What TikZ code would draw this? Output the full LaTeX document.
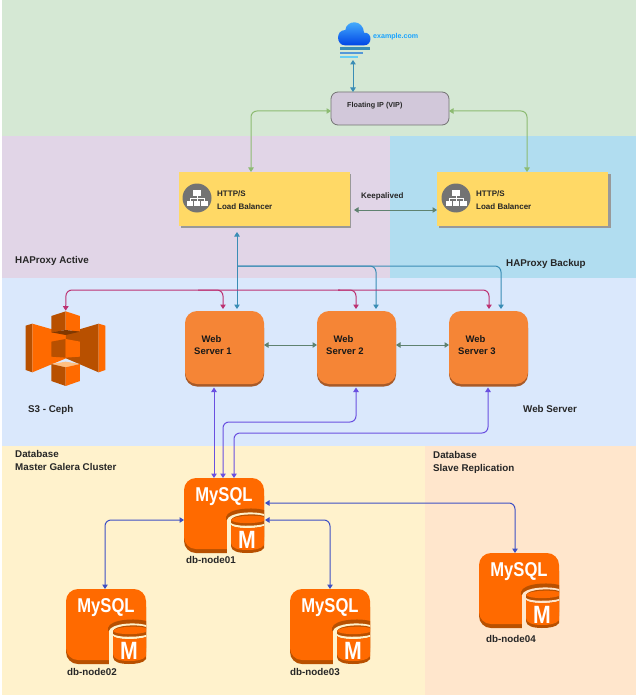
\documentclass[tikz,border=0pt]{standalone}
\usepackage{fontspec}
\usepackage{graphicx}
\setmainfont{Liberation Sans}
\usetikzlibrary{arrows.meta,calc}
\definecolor{bgreen}{HTML}{D5E8D4}
\definecolor{bpurple}{HTML}{E1D5E7}
\definecolor{bblue}{HTML}{B1DDF0}
\definecolor{bsky}{HTML}{DAE8FC}
\definecolor{byellow}{HTML}{FFF2CC}
\definecolor{bpeach}{HTML}{FFE6CC}
\definecolor{awsorange}{HTML}{FF6A00}
\definecolor{awsdark}{HTML}{B85000}
\definecolor{weborange}{HTML}{F58536}
\definecolor{webdark}{HTML}{A85A28}
\definecolor{lbyellow}{HTML}{FFD966}
\definecolor{vipfill}{HTML}{D2C8DA}
\definecolor{cteal}{HTML}{3A8DB5}
\definecolor{cgreen}{HTML}{8DBB72}
\definecolor{cdkgreen}{HTML}{5F8270}
\definecolor{cmag}{HTML}{BC3272}
\definecolor{cpurple}{HTML}{6A50E0}
\definecolor{cblue}{HTML}{3E50C4}
\tikzset{
  x=1pt,y=-1pt,
  lbl/.style={anchor=west,inner sep=0pt,font=\fontsize{9.8}{12.3}\selectfont\bfseries,text=black!85,align=left},
  lbtext/.style={anchor=west,inner sep=0pt,font=\fontsize{8}{12.3}\selectfont\bfseries,text=black!85,align=left},
  webtext/.style={anchor=west,inner sep=0pt,align=center,font=\fontsize{9.5}{12.3}\selectfont\bfseries,text=black!90},
  websrv/.style={anchor=north west,minimum width=79pt,minimum height=73pt,inner sep=0pt,outer sep=0pt,rounded corners=12pt,fill=weborange},
  webshade/.style={rounded corners=12pt,fill=webdark},
  lb/.style={anchor=north west,minimum width=171pt,minimum height=54pt,inner sep=0pt,outer sep=0pt,fill=lbyellow},
  conn/.style={line width=1pt,rounded corners=6pt,{Triangle[width=5.5pt,length=4.5pt]}-{Triangle[width=5.5pt,length=4.5pt]}},
  connone/.style={line width=1pt,rounded corners=6pt,-{Triangle[width=5.5pt,length=4.5pt]}},
  tealc/.style={conn,draw=cteal},
  greenc/.style={conn,draw=cgreen},
  dkgreenc/.style={conn,draw=cdkgreen},
  magc/.style={connone,draw=cmag},
  purc/.style={conn,draw=cpurple},
  bluec/.style={conn,draw=cblue},
  dbbox/.style={anchor=north west,minimum width=80pt,minimum height=77pt,inner sep=0pt,outer sep=0pt},
  pics/mysql/.style={code={
    \fill[awsdark,rounded corners=12pt] (0,6) rectangle (80,75);
    \fill[awsorange,rounded corners=12pt] (0,0) rectangle (80,71);
    \node[text=white,inner sep=0pt,anchor=base] at (40,23.5) {\scalebox{0.83}[1]{\fontsize{20}{20}\selectfont\bfseries MySQL}};
    \fill[awsdark] (42,39) .. controls (44,30) and (70,29) .. (80,32) -- (80,40) -- (42,42) -- cycle;
    \fill[#1] (43,42) .. controls (45,34) and (70,33) .. (80,36) -- (80,78) -- (43,78) -- cycle;
    \fill[awsdark] (47,42) .. controls (49,36) and (72,35) .. (80,38) -- (80,70) .. controls (78,74) and (70,75) .. (63,75) .. controls (54,75) and (47,73) .. (47,68) -- cycle;
    \fill[awsorange] (47,42) .. controls (49,37.5) and (72,36.5) .. (80,39) -- (80,43) .. controls (72,46) and (50,46) .. (47,42) -- cycle;
    \fill[#1] (47,45) .. controls (50,48.5) and (72,48.5) .. (80,46) -- (80,48) .. controls (72,51) and (50,51) .. (47,47) -- cycle;
    \fill[awsorange] (47,47) .. controls (50,51) and (72,51) .. (80,48) -- (80,67) .. controls (78,71) and (70,72) .. (63,72) .. controls (54,72) and (47,70) .. (47,65) -- cycle;
    \node[text=white,inner sep=0pt,anchor=base] at (63,70) {\scalebox{0.85}[1]{\fontsize{25}{25}\selectfont\bfseries M}};
  }},
  pics/lbicon/.style={code={
    \fill[black!55] (0,0) circle[radius=14.5pt];
    \fill[white] (-4,-8) rectangle (4,-2.5);
    \fill[white] (-10.5,2.5) rectangle (-3.8,7.5);
    \fill[white] (-3.2,2.5) rectangle (3.2,7.5);
    \fill[white] (3.8,2.5) rectangle (10.5,7.5);
    \draw[white,line width=0.7pt] (0,-3) -- (0,3) (-7,3) -- (-7,0) -- (7,0) -- (7,3);
  }},
}
\begin{document}
\begin{tikzpicture}
\useasboundingbox (0,0) rectangle (637,695);
\fill[white] (0,0) rectangle (637,695);
% bands
\fill[bgreen] (1.5,0.5) rectangle (636,136);
\fill[bpurple] (1.5,136) rectangle (390,278);
\fill[bblue] (390,136) rectangle (636,278);
\fill[bsky] (1.5,278) rectangle (636,446);
\fill[byellow] (1.5,446) rectangle (425,695);
\fill[bpeach] (425,446) rectangle (636,695);
% cloud
\begin{scope}[shift={(300,10)},x=0.3333pt,y=-0.3333pt]
  \shade[top color=blue!40!cyan!70,bottom color=blue!70!cyan!90!black]
    (135,106) .. controls (108,106) and (106,60) .. (136,60) .. controls (140,28) and (190,28) .. (192,68) .. controls (218,66) and (218,106) .. (192,106) -- cycle;
  \fill[cteal] (120,112) rectangle (210,119);
  \fill[cyan!60!blue!70] (120,125) rectangle (188,131);
  \fill[cyan!60] (120,138) rectangle (175,144);
\end{scope}
\coordinate (cloudb) at (353,60);
\node[anchor=west,inner sep=0pt,font=\fontsize{7.1}{9}\selectfont\bfseries,text=blue!40!cyan!90] (dom) at (373,37) {example.com};
% VIP
\node[anchor=north west,minimum width=118pt,minimum height=33pt,inner sep=0pt,outer sep=0pt,rounded corners=7pt,fill=vipfill,draw=black!55,line width=0.8pt] (vip) at (331,92) {};
\node[anchor=west,inner sep=0pt,font=\fontsize{7.2}{9}\selectfont\bfseries,text=black!85] (viptxt) at (347,106) {Floating IP (VIP)};
% load balancers
\fill[black!40] (180.5,173.5) rectangle (351,228);
\node[lb] (lb1) at (179,172) {};
\pic at (197,198) {lbicon};
\node[lbtext] (lb1t) at (217,200) {HTTP/S\\Load Balancer};
\fill[black!40] (438.5,173.5) rectangle (611,228);
\node[lb] (lb2) at (437,172) {};
\pic at (456,198) {lbicon};
\node[lbtext] (lb2t) at (476,200) {HTTP/S\\Load Balancer};
\node[anchor=west,inner sep=0pt,font=\fontsize{8}{10}\selectfont\bfseries,text=black!85] (keep) at (361,196) {Keepalived};
% web servers
\foreach \xx/\nm in {185/1,317/2,449/3}{
  \fill[webshade] (\xx,316) rectangle ++(79,70.5);
  \node[websrv] (web\nm) at (\xx,311) {};
}
\node[webtext] (w1t) at (194,345) {Web\hspace*{3pt}\\Server 1};
\node[webtext] (w2t) at (326,345) {Web\hspace*{3pt}\\Server 2};
\node[webtext] (w3t) at (458,345) {Web\hspace*{3pt}\\Server 3};
% S3
\begin{scope}[shift={(10,280)},x=0.3333pt,y=-0.3333pt]
  \coordinate (s3top) at (167,92);
  \fill[awsdark] (47,137) -- (67,131) -- (67,277) -- (47,270) -- cycle;
  \fill[awsorange] (67,131) -- (168,160) -- (168,235) -- (67,277) -- cycle;
  \fill[awsdark] (168,160) -- (266,131) -- (266,277) -- (168,235) -- cycle;
  \fill[awsorange] (266,131) -- (286,137) -- (286,270) -- (266,277) -- cycle;
  \fill[awsdark] (124,108) -- (167,94) -- (167,150) -- (124,157) -- cycle;
  \fill[awsorange] (167,94) -- (210,108) -- (210,155) -- (167,150) -- cycle;
  \fill[awsdark!70!black] (124,157) -- (167,150) -- (210,155) -- (167,165) -- cycle;
  \fill[awsdark] (124,185) -- (167,177) -- (167,233) -- (124,230) -- cycle;
  \fill[awsorange] (167,177) -- (210,185) -- (210,230) -- (167,233) -- cycle;
  \fill[orange!50!white] (124,252) -- (167,245) -- (210,252) -- (167,262) -- cycle;
  \fill[awsdark] (124,252) -- (167,262) -- (167,318) -- (124,303) -- cycle;
  \fill[awsorange] (167,262) -- (210,252) -- (210,303) -- (167,318) -- cycle;
\end{scope}
% MySQL icons
\node[dbbox] (db1) at (184,478) {};
\pic at (184,478) {mysql=byellow};
\node[dbbox] (db2) at (66,589) {};
\pic at (66,589) {mysql=byellow};
\node[dbbox] (db3) at (290,589) {};
\pic at (290,589) {mysql=byellow};
\node[dbbox] (db4) at (479,553) {};
\pic at (479,553) {mysql=bpeach};
% labels
\node[lbl] (hap1) at (15,261) {HAProxy Active};
\node[lbl] (hap2) at (506,263.5) {HAProxy Backup};
\node[lbl] (s3l) at (28,409.5) {S3 - Ceph};
\node[lbl] (wsl) at (523,408.5) {Web Server};
\node[lbl] (dbm) at (15,460.5) {Database\\Master Galera Cluster};
\node[lbl] (dbs) at (433,462.5) {Database\\Slave Replication};
\node[lbl] (n1) at (186,560) {db-node01};
\node[lbl] (n2) at (67,672) {db-node02};
\node[lbl] (n3) at (290,672) {db-node03};
\node[lbl] (n4) at (486,639) {db-node04};
% connectors
\draw[tealc] (cloudb) -- (vip.north -| cloudb);
\draw[greenc] (vip.west |- 0,111) -- (251,111) -- (lb1.north -| 251,0);
\draw[greenc] (vip.east |- 0,111) -- (527,111) -- (lb2.north -| 527,0);
\draw[dkgreenc] (354,210) -- (lb2.west |- 0,210);
\draw[tealc] (237,232) -- (237,309);
\draw[connone,draw=cteal] (237,266) -- (376,266) -- (376,309);
\draw[connone,draw=cteal] (237,266) -- (501,266) -- (501,309);
\draw[magc] (340,290) -- (66,290) -- (s3top);
\draw[magc] (198,290) -- (223,290) -- (223,309);
\draw[magc] (338,290) -- (356,290) -- (356,309);
\draw[magc] (338,290) -- (489,290) -- (489,309);
\draw[dkgreenc] (web1.east |- 0,345) -- (web2.west |- 0,345);
\draw[dkgreenc] (web2.east |- 0,345) -- (web3.west |- 0,345);
\draw[purc] (214,387.5) -- (db1.north -| 214,0);
\draw[purc] (223,478) -- (223,422) -- (356,422) -- (356,387.5);
\draw[purc] (234,478) -- (234,433) -- (488,433) -- (488,387.5);
\draw[bluec] (db1.west |- 0,520) -- (105,520) -- (db2.north -| 105,0);
\draw[bluec] (265,520) -- (330,520) -- (db3.north -| 330,0);
\draw[bluec] (265,503) -- (515,503) -- (db4.north -| 515,0);
\end{tikzpicture}
\end{document}
